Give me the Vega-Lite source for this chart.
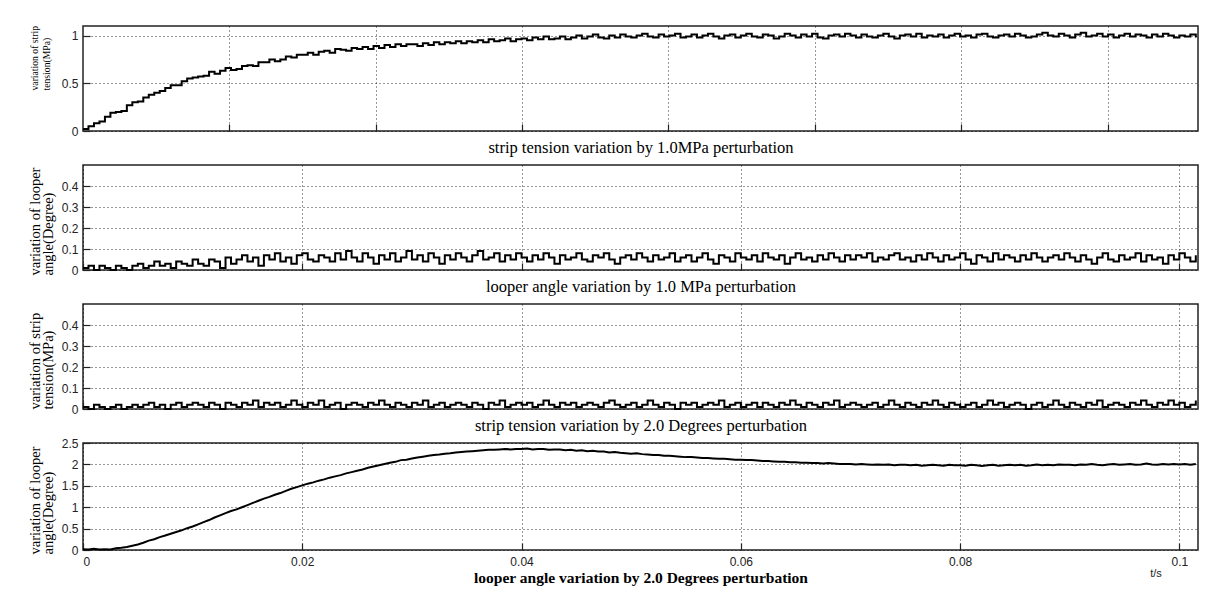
{
  "$schema": "https://vega.github.io/schema/vega-lite/v6.json",
  "background": "white",
  "padding": {"left": 26, "top": 24, "right": 5, "bottom": 5},
  "bounds": "flush",
  "spacing": 34,
  "config": {
    "view": {"stroke": "#222", "strokeWidth": 1.5},
    "axis": {
      "domain": false,
      "grid": true,
      "gridColor": "#000",
      "gridDash": [1, 3],
      "gridOpacity": 0.8,
      "gridWidth": 1,
      "ticks": true,
      "tickColor": "#222",
      "tickSize": -7,
      "tickWidth": 1.2,
      "labelFont": "Liberation Sans",
      "labelFontSize": 12,
      "labelColor": "#222",
      "labelPadding": 12,
      "titleFont": "Liberation Serif",
      "titleColor": "#000",
      "titleFontWeight": "normal"
    }
  },
  "datasets": {
    "d": [
      {"t":0,"a":0.02,"b":0.01,"c":0.01,"d":0.02},
      {"t":0.0005,"a":0.05,"b":0.02,"c":0.00,"d":0.01},
      {"t":0.001,"a":0.08,"b":0.00,"c":0.02,"d":0.03},
      {"t":0.0015,"a":0.10,"b":0.02,"c":0.01,"d":0.01},
      {"t":0.002,"a":0.15,"b":0.01,"c":0.00,"d":0.02},
      {"t":0.0025,"a":0.19,"b":0.00,"c":0.01,"d":0.01},
      {"t":0.003,"a":0.20,"b":0.02,"c":0.02,"d":0.04},
      {"t":0.0035,"a":0.21,"b":0.01,"c":0.00,"d":0.05},
      {"t":0.004,"a":0.27,"b":0.00,"c":0.01,"d":0.07},
      {"t":0.0045,"a":0.30,"b":0.02,"c":0.02,"d":0.10},
      {"t":0.005,"a":0.31,"b":0.03,"c":0.01,"d":0.13},
      {"t":0.0055,"a":0.35,"b":0.01,"c":0.02,"d":0.17},
      {"t":0.006,"a":0.38,"b":0.02,"c":0.03,"d":0.22},
      {"t":0.0065,"a":0.40,"b":0.04,"c":0.01,"d":0.25},
      {"t":0.007,"a":0.42,"b":0.02,"c":0.02,"d":0.30},
      {"t":0.0075,"a":0.45,"b":0.03,"c":0.00,"d":0.34},
      {"t":0.008,"a":0.48,"b":0.01,"c":0.02,"d":0.38},
      {"t":0.0085,"a":0.48,"b":0.04,"c":0.03,"d":0.42},
      {"t":0.009,"a":0.52,"b":0.03,"c":0.01,"d":0.46},
      {"t":0.0095,"a":0.55,"b":0.02,"c":0.02,"d":0.51},
      {"t":0.01,"a":0.56,"b":0.05,"c":0.03,"d":0.55},
      {"t":0.0105,"a":0.57,"b":0.03,"c":0.02,"d":0.60},
      {"t":0.011,"a":0.58,"b":0.02,"c":0.01,"d":0.65},
      {"t":0.0115,"a":0.62,"b":0.05,"c":0.03,"d":0.70},
      {"t":0.012,"a":0.60,"b":0.04,"c":0.02,"d":0.76},
      {"t":0.0125,"a":0.63,"b":0.01,"c":0.00,"d":0.81},
      {"t":0.013,"a":0.66,"b":0.06,"c":0.03,"d":0.86},
      {"t":0.0135,"a":0.64,"b":0.03,"c":0.02,"d":0.91},
      {"t":0.014,"a":0.65,"b":0.05,"c":0.01,"d":0.95},
      {"t":0.0145,"a":0.68,"b":0.07,"c":0.03,"d":1.00},
      {"t":0.015,"a":0.69,"b":0.04,"c":0.02,"d":1.05},
      {"t":0.0155,"a":0.68,"b":0.06,"c":0.04,"d":1.10},
      {"t":0.016,"a":0.72,"b":0.02,"c":0.01,"d":1.15},
      {"t":0.0165,"a":0.72,"b":0.07,"c":0.03,"d":1.20},
      {"t":0.017,"a":0.75,"b":0.05,"c":0.02,"d":1.24},
      {"t":0.0175,"a":0.73,"b":0.08,"c":0.03,"d":1.29},
      {"t":0.018,"a":0.75,"b":0.04,"c":0.01,"d":1.33},
      {"t":0.0185,"a":0.78,"b":0.06,"c":0.02,"d":1.38},
      {"t":0.019,"a":0.77,"b":0.03,"c":0.04,"d":1.43},
      {"t":0.0195,"a":0.80,"b":0.07,"c":0.02,"d":1.47},
      {"t":0.02,"a":0.80,"b":0.08,"c":0.01,"d":1.51},
      {"t":0.0205,"a":0.82,"b":0.05,"c":0.03,"d":1.55},
      {"t":0.021,"a":0.80,"b":0.04,"c":0.02,"d":1.58},
      {"t":0.0215,"a":0.83,"b":0.07,"c":0.04,"d":1.62},
      {"t":0.022,"a":0.84,"b":0.06,"c":0.01,"d":1.65},
      {"t":0.0225,"a":0.82,"b":0.04,"c":0.02,"d":1.69},
      {"t":0.023,"a":0.86,"b":0.08,"c":0.03,"d":1.72},
      {"t":0.0235,"a":0.85,"b":0.05,"c":0.00,"d":1.75},
      {"t":0.024,"a":0.84,"b":0.09,"c":0.02,"d":1.79},
      {"t":0.0245,"a":0.87,"b":0.06,"c":0.03,"d":1.82},
      {"t":0.025,"a":0.86,"b":0.04,"c":0.02,"d":1.85},
      {"t":0.0255,"a":0.88,"b":0.08,"c":0.01,"d":1.88},
      {"t":0.026,"a":0.86,"b":0.06,"c":0.03,"d":1.92},
      {"t":0.0265,"a":0.89,"b":0.03,"c":0.02,"d":1.95},
      {"t":0.027,"a":0.87,"b":0.07,"c":0.04,"d":1.98},
      {"t":0.0275,"a":0.90,"b":0.05,"c":0.02,"d":2.01},
      {"t":0.028,"a":0.88,"b":0.08,"c":0.01,"d":2.04},
      {"t":0.0285,"a":0.91,"b":0.04,"c":0.03,"d":2.06},
      {"t":0.029,"a":0.89,"b":0.06,"c":0.02,"d":2.10},
      {"t":0.0295,"a":0.91,"b":0.09,"c":0.01,"d":2.11},
      {"t":0.03,"a":0.91,"b":0.05,"c":0.03,"d":2.14},
      {"t":0.0305,"a":0.89,"b":0.07,"c":0.02,"d":2.16},
      {"t":0.031,"a":0.92,"b":0.04,"c":0.04,"d":2.18},
      {"t":0.0315,"a":0.90,"b":0.08,"c":0.01,"d":2.20},
      {"t":0.032,"a":0.93,"b":0.06,"c":0.02,"d":2.22},
      {"t":0.0325,"a":0.91,"b":0.03,"c":0.03,"d":2.23},
      {"t":0.033,"a":0.93,"b":0.07,"c":0.01,"d":2.25},
      {"t":0.0335,"a":0.92,"b":0.05,"c":0.02,"d":2.26},
      {"t":0.034,"a":0.94,"b":0.08,"c":0.03,"d":2.28},
      {"t":0.0345,"a":0.92,"b":0.06,"c":0.02,"d":2.29},
      {"t":0.035,"a":0.94,"b":0.04,"c":0.01,"d":2.30},
      {"t":0.0355,"a":0.93,"b":0.07,"c":0.03,"d":2.31},
      {"t":0.036,"a":0.95,"b":0.09,"c":0.02,"d":2.32},
      {"t":0.0365,"a":0.93,"b":0.05,"c":0.00,"d":2.33},
      {"t":0.037,"a":0.96,"b":0.06,"c":0.03,"d":2.34},
      {"t":0.0375,"a":0.94,"b":0.08,"c":0.02,"d":2.34},
      {"t":0.038,"a":0.95,"b":0.04,"c":0.04,"d":2.35},
      {"t":0.0385,"a":0.97,"b":0.07,"c":0.01,"d":2.36},
      {"t":0.039,"a":0.94,"b":0.05,"c":0.02,"d":2.35},
      {"t":0.0395,"a":0.96,"b":0.08,"c":0.03,"d":2.36},
      {"t":0.04,"a":0.97,"b":0.06,"c":0.02,"d":2.36},
      {"t":0.0405,"a":0.95,"b":0.04,"c":0.03,"d":2.37},
      {"t":0.041,"a":0.98,"b":0.07,"c":0.01,"d":2.35},
      {"t":0.0415,"a":0.96,"b":0.05,"c":0.02,"d":2.36},
      {"t":0.042,"a":0.99,"b":0.08,"c":0.04,"d":2.36},
      {"t":0.0425,"a":0.96,"b":0.06,"c":0.02,"d":2.34},
      {"t":0.043,"a":0.97,"b":0.03,"c":0.01,"d":2.35},
      {"t":0.0435,"a":0.99,"b":0.07,"c":0.03,"d":2.35},
      {"t":0.044,"a":0.96,"b":0.05,"c":0.02,"d":2.33},
      {"t":0.0445,"a":0.98,"b":0.06,"c":0.03,"d":2.34},
      {"t":0.045,"a":1.00,"b":0.08,"c":0.01,"d":2.32},
      {"t":0.0455,"a":0.97,"b":0.05,"c":0.02,"d":2.33},
      {"t":0.046,"a":0.99,"b":0.04,"c":0.03,"d":2.31},
      {"t":0.0465,"a":1.01,"b":0.07,"c":0.02,"d":2.32},
      {"t":0.047,"a":0.98,"b":0.06,"c":0.01,"d":2.30},
      {"t":0.0475,"a":0.97,"b":0.08,"c":0.03,"d":2.30},
      {"t":0.048,"a":1.00,"b":0.05,"c":0.04,"d":2.28},
      {"t":0.0485,"a":0.98,"b":0.03,"c":0.02,"d":2.29},
      {"t":0.049,"a":1.01,"b":0.06,"c":0.01,"d":2.27},
      {"t":0.0495,"a":0.99,"b":0.07,"c":0.02,"d":2.26},
      {"t":0.05,"a":0.98,"b":0.05,"c":0.03,"d":2.25},
      {"t":0.0505,"a":1.00,"b":0.08,"c":0.01,"d":2.26},
      {"t":0.051,"a":1.02,"b":0.06,"c":0.02,"d":2.24},
      {"t":0.0515,"a":0.99,"b":0.04,"c":0.04,"d":2.23},
      {"t":0.052,"a":0.98,"b":0.07,"c":0.02,"d":2.22},
      {"t":0.0525,"a":1.01,"b":0.05,"c":0.01,"d":2.22},
      {"t":0.053,"a":0.99,"b":0.06,"c":0.03,"d":2.20},
      {"t":0.0535,"a":1.00,"b":0.08,"c":0.02,"d":2.20},
      {"t":0.054,"a":1.02,"b":0.04,"c":0.00,"d":2.19},
      {"t":0.0545,"a":0.98,"b":0.06,"c":0.03,"d":2.18},
      {"t":0.055,"a":0.99,"b":0.07,"c":0.02,"d":2.17},
      {"t":0.0555,"a":1.01,"b":0.04,"c":0.03,"d":2.17},
      {"t":0.056,"a":0.98,"b":0.06,"c":0.01,"d":2.16},
      {"t":0.0565,"a":1.00,"b":0.08,"c":0.02,"d":2.15},
      {"t":0.057,"a":1.02,"b":0.05,"c":0.03,"d":2.15},
      {"t":0.0575,"a":0.99,"b":0.03,"c":0.02,"d":2.14},
      {"t":0.058,"a":0.97,"b":0.07,"c":0.04,"d":2.13},
      {"t":0.0585,"a":1.00,"b":0.06,"c":0.01,"d":2.13},
      {"t":0.059,"a":1.01,"b":0.04,"c":0.02,"d":2.12},
      {"t":0.0595,"a":0.98,"b":0.08,"c":0.03,"d":2.11},
      {"t":0.06,"a":1.00,"b":0.06,"c":0.01,"d":2.11},
      {"t":0.0605,"a":1.02,"b":0.05,"c":0.02,"d":2.10},
      {"t":0.061,"a":0.99,"b":0.07,"c":0.03,"d":2.10},
      {"t":0.0615,"a":0.98,"b":0.04,"c":0.01,"d":2.09},
      {"t":0.062,"a":1.01,"b":0.08,"c":0.03,"d":2.08},
      {"t":0.0625,"a":1.00,"b":0.06,"c":0.02,"d":2.08},
      {"t":0.063,"a":0.97,"b":0.05,"c":0.01,"d":2.07},
      {"t":0.0635,"a":0.99,"b":0.07,"c":0.03,"d":2.06},
      {"t":0.064,"a":1.02,"b":0.03,"c":0.02,"d":2.06},
      {"t":0.0645,"a":1.00,"b":0.06,"c":0.04,"d":2.05},
      {"t":0.065,"a":0.98,"b":0.08,"c":0.02,"d":2.05},
      {"t":0.0655,"a":1.01,"b":0.05,"c":0.01,"d":2.04},
      {"t":0.066,"a":0.99,"b":0.06,"c":0.03,"d":2.04},
      {"t":0.0665,"a":1.02,"b":0.04,"c":0.02,"d":2.03},
      {"t":0.067,"a":0.98,"b":0.07,"c":0.01,"d":2.03},
      {"t":0.0675,"a":0.97,"b":0.05,"c":0.03,"d":2.02},
      {"t":0.068,"a":1.00,"b":0.08,"c":0.02,"d":2.03},
      {"t":0.0685,"a":1.01,"b":0.06,"c":0.04,"d":2.02},
      {"t":0.069,"a":0.99,"b":0.04,"c":0.01,"d":2.01},
      {"t":0.0695,"a":1.02,"b":0.07,"c":0.02,"d":2.01},
      {"t":0.07,"a":1.00,"b":0.05,"c":0.03,"d":2.01},
      {"t":0.0705,"a":0.98,"b":0.07,"c":0.02,"d":2.00},
      {"t":0.071,"a":1.01,"b":0.06,"c":0.01,"d":2.01},
      {"t":0.0715,"a":0.99,"b":0.08,"c":0.02,"d":2.00},
      {"t":0.072,"a":0.98,"b":0.04,"c":0.03,"d":1.99},
      {"t":0.0725,"a":1.00,"b":0.06,"c":0.01,"d":2.00},
      {"t":0.073,"a":1.02,"b":0.05,"c":0.02,"d":1.99},
      {"t":0.0735,"a":0.99,"b":0.07,"c":0.04,"d":2.00},
      {"t":0.074,"a":0.97,"b":0.08,"c":0.02,"d":1.98},
      {"t":0.0745,"a":1.00,"b":0.05,"c":0.01,"d":1.99},
      {"t":0.075,"a":1.01,"b":0.06,"c":0.03,"d":1.99},
      {"t":0.0755,"a":0.99,"b":0.04,"c":0.02,"d":1.98},
      {"t":0.076,"a":1.02,"b":0.07,"c":0.01,"d":1.99},
      {"t":0.0765,"a":0.98,"b":0.05,"c":0.03,"d":1.97},
      {"t":0.077,"a":1.00,"b":0.08,"c":0.02,"d":1.98},
      {"t":0.0775,"a":0.99,"b":0.06,"c":0.04,"d":1.99},
      {"t":0.078,"a":1.01,"b":0.04,"c":0.02,"d":1.98},
      {"t":0.0785,"a":0.98,"b":0.07,"c":0.01,"d":1.97},
      {"t":0.079,"a":1.00,"b":0.05,"c":0.03,"d":1.99},
      {"t":0.0795,"a":1.02,"b":0.06,"c":0.02,"d":1.98},
      {"t":0.08,"a":0.99,"b":0.08,"c":0.01,"d":1.98},
      {"t":0.0805,"a":1.00,"b":0.05,"c":0.02,"d":1.97},
      {"t":0.081,"a":0.98,"b":0.03,"c":0.03,"d":1.99},
      {"t":0.0815,"a":1.01,"b":0.07,"c":0.01,"d":1.98},
      {"t":0.082,"a":1.02,"b":0.06,"c":0.02,"d":1.96},
      {"t":0.0825,"a":0.99,"b":0.04,"c":0.04,"d":1.98},
      {"t":0.083,"a":0.98,"b":0.08,"c":0.02,"d":1.99},
      {"t":0.0835,"a":1.00,"b":0.05,"c":0.03,"d":1.97},
      {"t":0.084,"a":1.01,"b":0.07,"c":0.01,"d":1.98},
      {"t":0.0845,"a":0.99,"b":0.06,"c":0.02,"d":1.99},
      {"t":0.085,"a":1.02,"b":0.04,"c":0.03,"d":1.98},
      {"t":0.0855,"a":1.00,"b":0.07,"c":0.02,"d":1.99},
      {"t":0.086,"a":0.98,"b":0.05,"c":0.00,"d":1.97},
      {"t":0.0865,"a":0.99,"b":0.08,"c":0.02,"d":1.98},
      {"t":0.087,"a":1.01,"b":0.06,"c":0.03,"d":2.00},
      {"t":0.0875,"a":1.03,"b":0.04,"c":0.01,"d":1.98},
      {"t":0.088,"a":1.00,"b":0.06,"c":0.02,"d":1.99},
      {"t":0.0885,"a":0.99,"b":0.07,"c":0.04,"d":1.98},
      {"t":0.089,"a":1.02,"b":0.05,"c":0.02,"d":2.00},
      {"t":0.0895,"a":1.00,"b":0.08,"c":0.01,"d":1.99},
      {"t":0.09,"a":0.98,"b":0.06,"c":0.03,"d":1.99},
      {"t":0.0905,"a":1.01,"b":0.04,"c":0.02,"d":1.98},
      {"t":0.091,"a":1.03,"b":0.07,"c":0.01,"d":2.00},
      {"t":0.0915,"a":0.99,"b":0.05,"c":0.03,"d":1.99},
      {"t":0.092,"a":1.00,"b":0.03,"c":0.02,"d":2.01},
      {"t":0.0925,"a":1.02,"b":0.06,"c":0.04,"d":1.99},
      {"t":0.093,"a":0.99,"b":0.08,"c":0.01,"d":1.98},
      {"t":0.0935,"a":1.01,"b":0.05,"c":0.02,"d":2.00},
      {"t":0.094,"a":0.98,"b":0.04,"c":0.03,"d":2.01},
      {"t":0.0945,"a":1.00,"b":0.07,"c":0.02,"d":1.99},
      {"t":0.095,"a":1.02,"b":0.05,"c":0.01,"d":2.00},
      {"t":0.0955,"a":0.99,"b":0.06,"c":0.03,"d":2.01},
      {"t":0.096,"a":1.01,"b":0.08,"c":0.02,"d":1.99},
      {"t":0.0965,"a":1.00,"b":0.04,"c":0.04,"d":2.00},
      {"t":0.097,"a":0.98,"b":0.07,"c":0.02,"d":2.02},
      {"t":0.0975,"a":1.01,"b":0.05,"c":0.01,"d":2.00},
      {"t":0.098,"a":0.99,"b":0.06,"c":0.03,"d":1.99},
      {"t":0.0985,"a":1.02,"b":0.03,"c":0.02,"d":2.01},
      {"t":0.099,"a":1.00,"b":0.07,"c":0.04,"d":2.00},
      {"t":0.0995,"a":0.98,"b":0.05,"c":0.02,"d":2.01},
      {"t":0.1,"a":1.00,"b":0.08,"c":0.03,"d":2.00},
      {"t":0.1005,"a":0.99,"b":0.06,"c":0.01,"d":2.01},
      {"t":0.101,"a":1.01,"b":0.04,"c":0.02,"d":1.99},
      {"t":0.1015,"a":0.98,"b":0.07,"c":0.04,"d":2.01}
    ]
  },
  "vconcat": [
    {
      "width": 1115,
      "height": 105,
      "data": {"name": "d"},
      "mark": {"type": "line", "interpolate": "step-after", "color": "#000", "strokeWidth": 2},
      "encoding": {
        "x": {
          "field": "t", "type": "quantitative",
          "scale": {"domain": [0, 0.1017], "nice": false, "zero": false},
          "axis": {
            "values": [0.01335, 0.0267, 0.04005, 0.0534, 0.06675, 0.0801, 0.09345],
            "labels": false,
            "title": "strip tension variation by 1.0MPa perturbation",
            "titleFontSize": 16.5,
            "titlePadding": 8
          }
        },
        "y": {
          "field": "a", "type": "quantitative",
          "scale": {"domain": [0, 1.1], "nice": false},
          "axis": {
            "values": [0, 0.5, 1],
            "format": "~g",
            "title": ["variation of strip", "tension(MPa)"],
            "titleFontSize": 9.7,
            "titleLineHeight": 12,
            "titleAnchor": "start",
            "titleY": 64,
            "titlePadding": 10
          }
        }
      }
    },
    {
      "width": 1115,
      "height": 105,
      "data": {"name": "d"},
      "mark": {"type": "line", "interpolate": "step-after", "color": "#000", "strokeWidth": 2},
      "encoding": {
        "x": {
          "field": "t", "type": "quantitative",
          "scale": {"domain": [0, 0.1017], "nice": false, "zero": false},
          "axis": {
            "values": [0, 0.02, 0.04, 0.06, 0.08, 0.1],
            "labels": false,
            "title": "looper angle variation by 1.0 MPa perturbation",
            "titleFontSize": 16.5,
            "titlePadding": 8
          }
        },
        "y": {
          "field": "b", "type": "quantitative",
          "scale": {"domain": [0, 0.5], "nice": false},
          "axis": {
            "values": [0, 0.1, 0.2, 0.3, 0.4],
            "format": "~g",
            "title": ["variation of looper", "angle(Degree)"],
            "titleFontSize": 14.5,
            "titleLineHeight": 13,
            "titleAnchor": "start",
            "titleY": 110,
            "titlePadding": 6
          }
        }
      }
    },
    {
      "width": 1115,
      "height": 105,
      "data": {"name": "d"},
      "mark": {"type": "line", "interpolate": "step-after", "color": "#000", "strokeWidth": 2},
      "encoding": {
        "x": {
          "field": "t", "type": "quantitative",
          "scale": {"domain": [0, 0.1017], "nice": false, "zero": false},
          "axis": {
            "values": [0, 0.02, 0.04, 0.06, 0.08, 0.1],
            "labels": false,
            "title": "strip tension variation by 2.0 Degrees perturbation",
            "titleFontSize": 16.5,
            "titlePadding": 8
          }
        },
        "y": {
          "field": "c", "type": "quantitative",
          "scale": {"domain": [0, 0.5], "nice": false},
          "axis": {
            "values": [0, 0.1, 0.2, 0.3, 0.4],
            "format": "~g",
            "title": ["variation of strip", "tension(MPa)"],
            "titleFontSize": 14.5,
            "titleLineHeight": 13,
            "titleAnchor": "start",
            "titlePadding": 6
          }
        }
      }
    },
    {
      "width": 1115,
      "height": 107,
      "data": {"name": "d"},
      "title": {"text": "t/s", "orient": "bottom", "anchor": "end", "font": "Liberation Sans", "fontSize": 11, "fontWeight": "normal", "color": "#222", "dx": -38, "offset": -18},
      "mark": {"type": "line", "interpolate": "linear", "color": "#000", "strokeWidth": 2},
      "encoding": {
        "x": {
          "field": "t", "type": "quantitative",
          "scale": {"domain": [0, 0.1017], "nice": false, "zero": false},
          "axis": {
            "values": [0, 0.02, 0.04, 0.06, 0.08, 0.1],
            "format": "~g",
            "labelPadding": 13,
            "title": "looper angle variation by 2.0 Degrees perturbation",
            "titleFontSize": 15.5,
            "titleFontWeight": "bold",
            "titlePadding": 3
          }
        },
        "y": {
          "field": "d", "type": "quantitative",
          "scale": {"domain": [0, 2.5], "nice": false},
          "axis": {
            "values": [0, 0.5, 1, 1.5, 2, 2.5],
            "format": "~g",
            "title": ["variation of looper", "angle(Degree)"],
            "titleFontSize": 14.5,
            "titleLineHeight": 13,
            "titleAnchor": "start",
            "titleY": 111,
            "titlePadding": 6
          }
        }
      }
    }
  ]
}
